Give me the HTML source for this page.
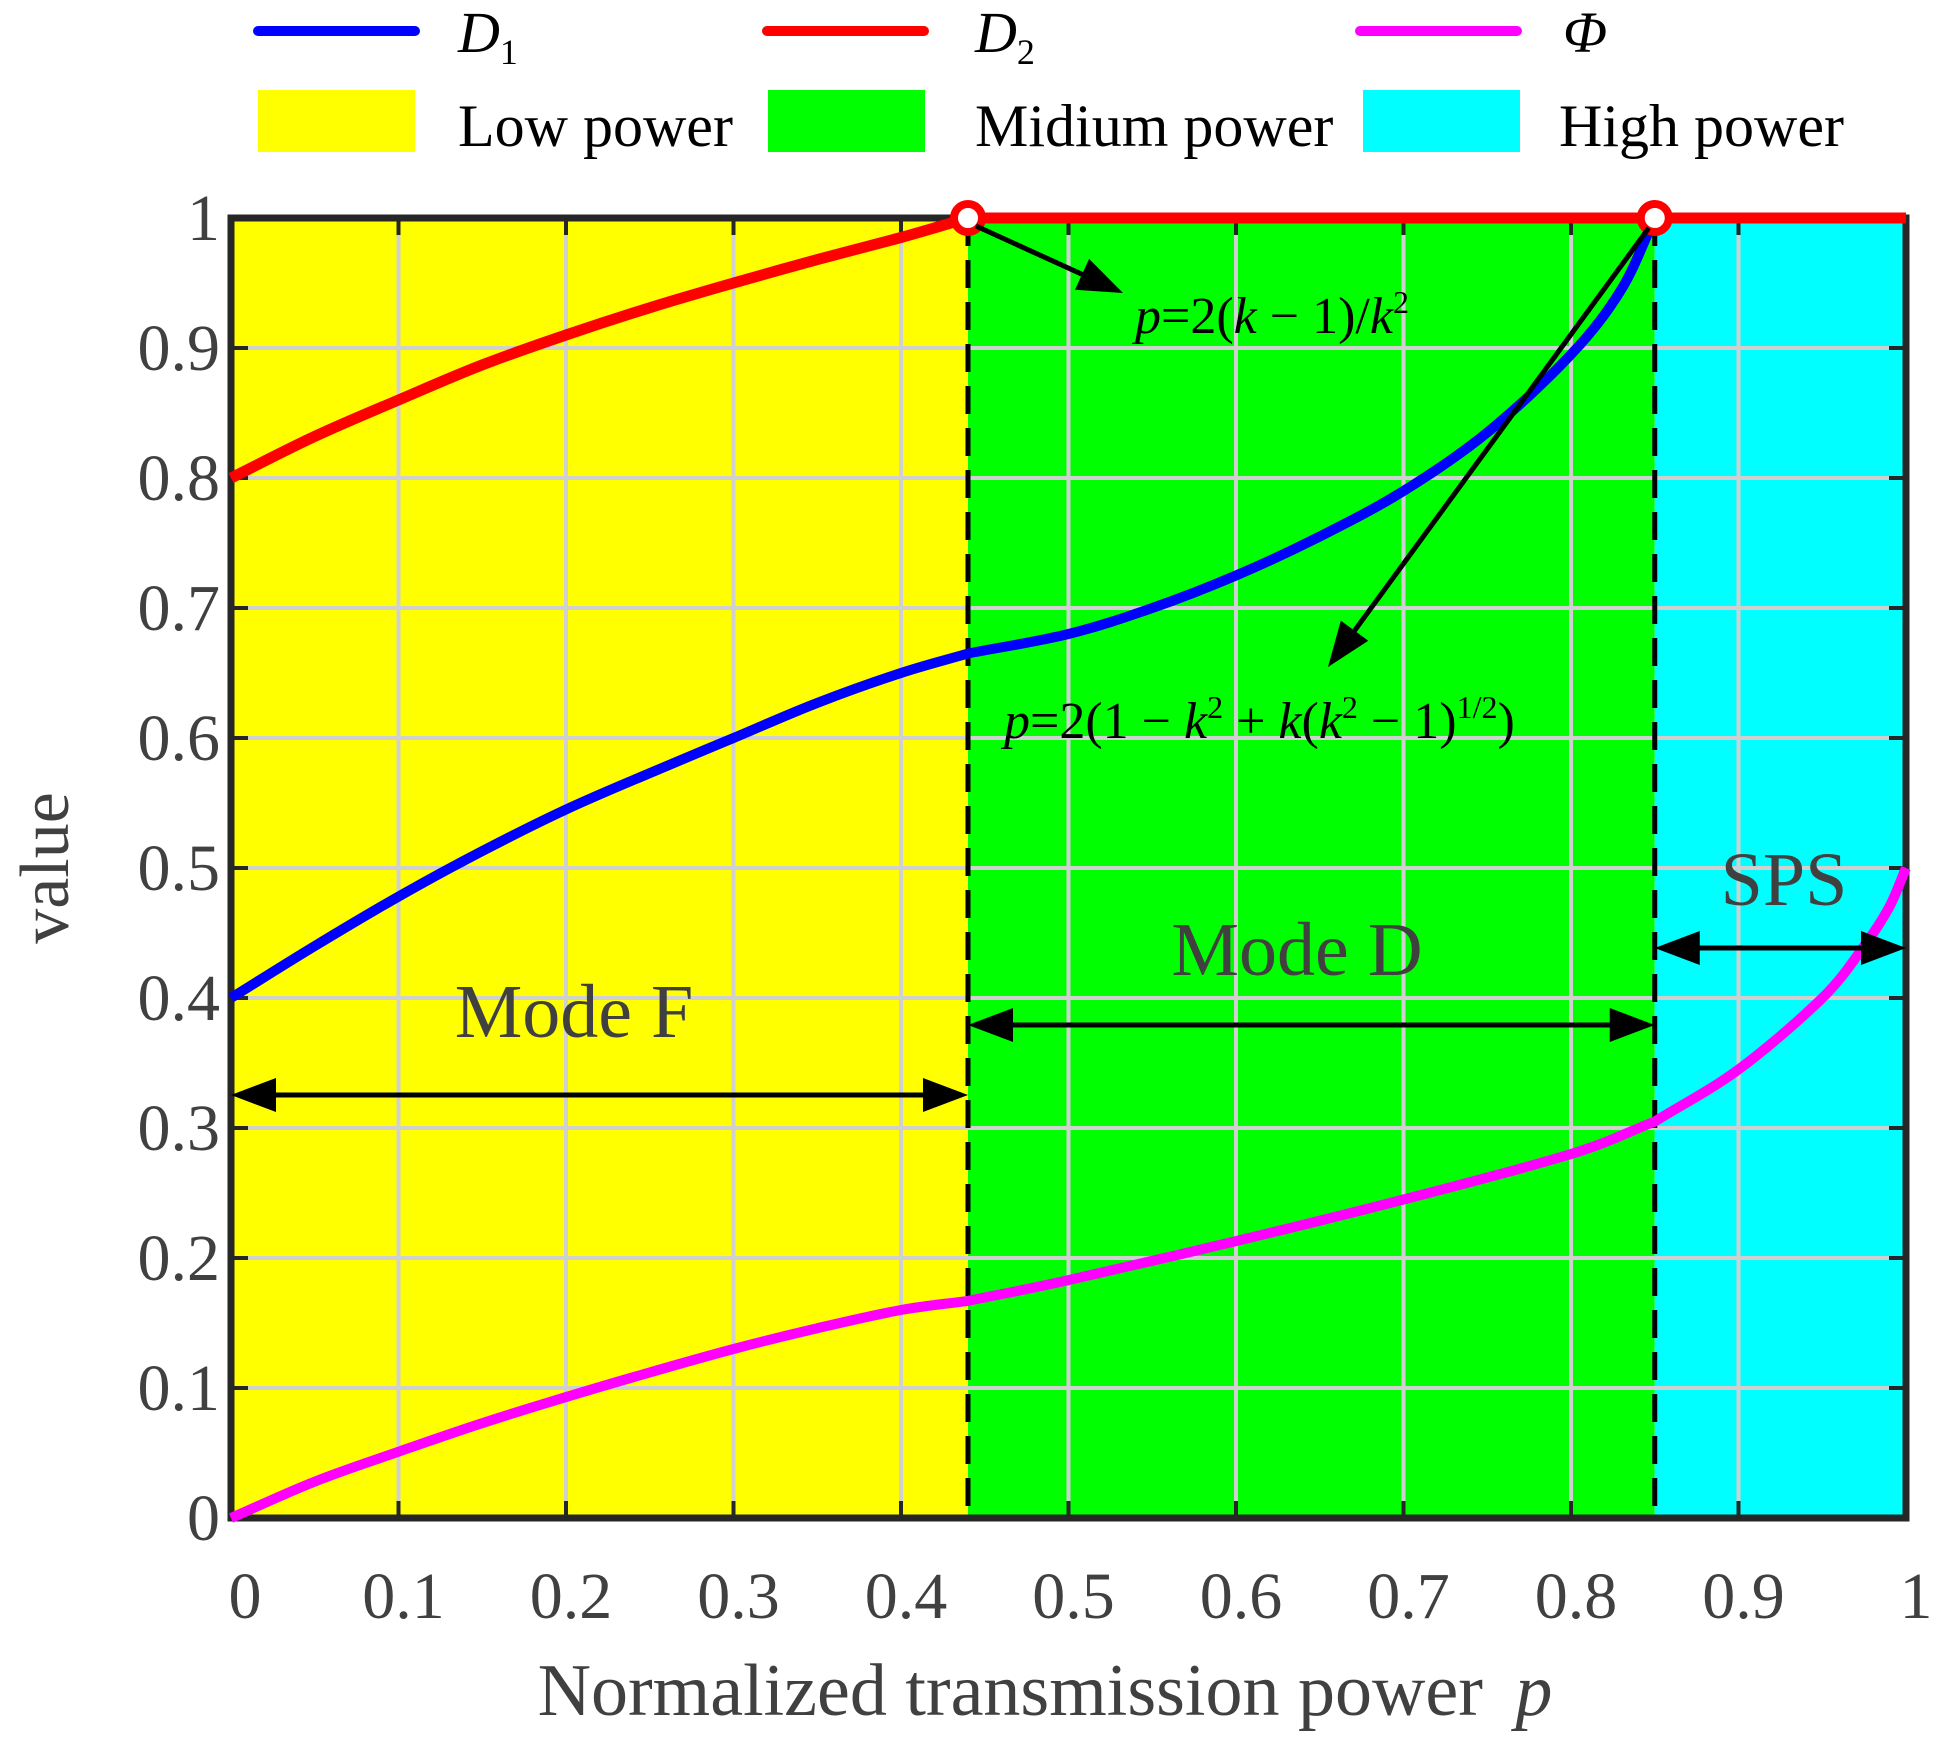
<!DOCTYPE html>
<html><head><meta charset="utf-8"><style>
html,body{margin:0;padding:0;background:#fff;}
svg{display:block;font-family:"Liberation Serif",serif;}
</style></head><body>
<svg id="chart" width="1946" height="1745" viewBox="0 0 1946 1745" xmlns="http://www.w3.org/2000/svg">
<g id="regions"></g>
<g id="grid"></g>
<g id="axes"></g>
<g id="series"></g>
<g id="annot"></g>
<g id="legend"></g>
</svg>
<script>
const xTicks=[0,0.1,0.2,0.3,0.4,0.5,0.6,0.7,0.8,0.9,1];
const yTicks=[0,0.1,0.2,0.3,0.4,0.5,0.6,0.7,0.8,0.9,1];
const tickLabels=["0","0.1","0.2","0.3","0.4","0.5","0.6","0.7","0.8","0.9","1"];
const boundaries=[0.44,0.85];
const d1X=[0,0.05,0.1,0.15,0.2,0.25,0.3,0.35,0.4,0.44,0.5,0.55,0.6,0.65,0.7,0.75,0.8,0.83,0.85];
const d1Y=[0.4,0.44,0.478,0.513,0.545,0.573,0.6,0.627,0.65,0.665,0.68,0.7,0.725,0.755,0.79,0.835,0.895,0.945,1.0];
const d2X=[0,0.05,0.1,0.15,0.2,0.25,0.3,0.35,0.4,0.44,0.6,0.85,1.0];
const d2Y=[0.8,0.832,0.86,0.887,0.91,0.931,0.95,0.968,0.985,1.0,1.0,1.0,1.0];
const phiX=[0,0.05,0.1,0.15,0.2,0.25,0.3,0.35,0.4,0.44,0.5,0.6,0.7,0.8,0.85,0.9,0.95,0.975,0.99,1.0];
const phiY=[0,0.028,0.051,0.073,0.093,0.112,0.13,0.146,0.16,0.167,0.183,0.213,0.245,0.28,0.305,0.345,0.4,0.44,0.47,0.5];

const L=231,R=1906,T=218,B=1518;
const sx=v=>L+(R-L)*v, sy=v=>B-(B-T)*v;
const NS="http://www.w3.org/2000/svg";
function mk(tag,attrs,parent){const e=document.createElementNS(NS,tag);for(const k in attrs)e.setAttribute(k,attrs[k]);parent.appendChild(e);return e;}
const G=id=>document.getElementById(id);

const regColors=["#ffff00","#00ff00","#00ffff"];
const regNames=["low-power-region","medium-power-region","high-power-region"];
const edges=[0,boundaries[0],boundaries[1],1];
for(let i=0;i<3;i++){
  const r=mk('rect',{x:sx(edges[i]),y:T,width:sx(edges[i+1])-sx(edges[i]),height:B-T,fill:regColors[i]},G('regions'));
  
  
}
xTicks.forEach(v=>{const l=mk('line',{x1:sx(v),x2:sx(v),y1:T,y2:B,stroke:'#d0d0d0','stroke-width':4},G('grid'));
  
  });
yTicks.forEach(v=>{const l=mk('line',{x1:L,x2:R,y1:sy(v),y2:sy(v),stroke:'#d0d0d0','stroke-width':4},G('grid'));
  
  });
boundaries.forEach(b=>{const l=mk('line',{x1:sx(b),x2:sx(b),y1:T,y2:B,stroke:'#000','stroke-width':5,'stroke-dasharray':'28,14'},G('grid'));
  
  });

const box=mk('rect',{x:L,y:T,width:R-L,height:B-T,fill:'none',stroke:'#262626','stroke-width':7},G('axes'));


xTicks.forEach((v,i)=>{
  mk('line',{x1:sx(v),x2:sx(v),y1:B,y2:B-17,stroke:'#262626','stroke-width':4},G('axes'));
  mk('line',{x1:sx(v),x2:sx(v),y1:T,y2:T+17,stroke:'#262626','stroke-width':4},G('axes'));
  const t=mk('text',{x:sx(v)+(i==0?14:i==10?10:5),y:1618,'font-size':66,fill:'#404040','text-anchor':'middle'},G('axes'));
  t.textContent=tickLabels[i];
  
  
});
yTicks.forEach((v,i)=>{
  mk('line',{x1:L,x2:L+17,y1:sy(v),y2:sy(v),stroke:'#262626','stroke-width':4},G('axes'));
  mk('line',{x1:R,x2:R-17,y1:sy(v),y2:sy(v),stroke:'#262626','stroke-width':4},G('axes'));
  const t=mk('text',{x:220,y:sy(v)+22,'font-size':66,fill:'#404040','text-anchor':'end'},G('axes'));
  t.textContent=tickLabels[i];
  
  
});
const xt=mk('text',{x:1045,y:1715,'font-size':74,fill:'#404040','text-anchor':'middle'},G('axes'));
xt.innerHTML='Normalized transmission power <tspan font-style="italic" dx="14">p</tspan>';


const yt=mk('text',{x:68,y:868,'font-size':70,fill:'#404040','text-anchor':'middle',transform:'rotate(-90 68 868)'},G('axes'));
yt.textContent='value';



// smooth path with one-sided tangents at region boundaries (kinks)
function path(xs,ys){
  const P=xs.map((x,i)=>[sx(x),sy(ys[i])]);
  const n=P.length;
  const isKink=i=>boundaries.some(b=>Math.abs(xs[i]-b)<1e-9);
  function tanIn(i){ // tangent arriving at i (from left)
    if(i===0||i===n-1||isKink(i)){const a=P[Math.max(i-1,0)],b=P[i];return [b[0]-a[0],b[1]-a[1]];}
    return [(P[i+1][0]-P[i-1][0])/2,(P[i+1][1]-P[i-1][1])/2];
  }
  function tanOut(i){
    if(i===0||i===n-1||isKink(i)){const a=P[i],b=P[Math.min(i+1,n-1)];return [b[0]-a[0],b[1]-a[1]];}
    return [(P[i+1][0]-P[i-1][0])/2,(P[i+1][1]-P[i-1][1])/2];
  }
  let d='M'+P[0][0].toFixed(1)+','+P[0][1].toFixed(1);
  for(let i=0;i<n-1;i++){
    const t1=tanOut(i),t2=tanIn(i+1),p1=P[i],p2=P[i+1];
    const c1=[p1[0]+t1[0]/3,p1[1]+t1[1]/3], c2=[p2[0]-t2[0]/3,p2[1]-t2[1]/3];
    d+=` C${c1[0].toFixed(1)},${c1[1].toFixed(1)} ${c2[0].toFixed(1)},${c2[1].toFixed(1)} ${p2[0].toFixed(1)},${p2[1].toFixed(1)}`;
  }
  return d;
}
const s2=mk('path',{d:path(d2X,d2Y),stroke:'#ff0000','stroke-width':11,fill:'none','stroke-linejoin':'round'},G('series'));


const s1=mk('path',{d:path(d1X,d1Y),stroke:'#0000ff','stroke-width':10,fill:'none','stroke-linejoin':'round'},G('series'));


const s3=mk('path',{d:path(phiX,phiY),stroke:'#ff00ff','stroke-width':10,fill:'none','stroke-linejoin':'round'},G('series'));



boundaries.forEach(b=>{const c=mk('circle',{cx:sx(b),cy:sy(1),r:14,fill:'#fff',stroke:'#ff0000','stroke-width':8},G('annot'));
  
  });
function ah(x,y,ang){mk('path',{d:'M0,0 L-45,-17 L-45,17 Z',fill:'#000',transform:`translate(${x},${y}) rotate(${ang})`},G('annot'));}
function dbl(x1,x2,y,name){
  const l=mk('line',{x1:x1+30,x2:x2-30,y1:y,y2:y,stroke:'#000','stroke-width':5},G('annot'));
  
  
  ah(x2,y,0);ah(x1,y,180);
}
dbl(sx(0),sx(boundaries[0]),1095,'mode-f-range-arrow');
dbl(sx(boundaries[0]),sx(boundaries[1]),1025,'mode-d-range-arrow');
dbl(sx(boundaries[1]),sx(1),948,'sps-range-arrow');
function callout(x1,y1,x2,y2,name){
  const a=Math.atan2(y2-y1,x2-x1);
  const l=mk('line',{x1,y1,x2:x2-40*Math.cos(a),y2:y2-40*Math.sin(a),stroke:'#000','stroke-width':5},G('annot'));
  
  
  ah(x2,y2,a*180/Math.PI);
}
callout(sx(boundaries[0])+8,226,1123,293,'formula-1-arrow');
callout(sx(boundaries[1])-6,228,1328,667,'formula-2-arrow');
function txt(x,y,size,html,name,anchor){const t=mk('text',{x,y,'font-size':size,fill:'#404040','text-anchor':anchor||'middle'},G('annot'));t.innerHTML=html;
  
  return t;}
txt(574,1037,76,'Mode F','mode-f-label');
txt(1297,975,76,'Mode D','mode-d-label');
txt(1784,905,76,'SPS','sps-label');
const f1=txt(1135,333,52,'<tspan font-style="italic">p</tspan>=2(<tspan font-style="italic">k</tspan> − 1)/<tspan font-style="italic">k</tspan><tspan font-size="32" dy="-20">2</tspan>','formula-1','start');f1.setAttribute('fill','#000');
const f2=txt(1004,738,52,'<tspan font-style="italic">p</tspan>=2(1 − <tspan font-style="italic">k</tspan><tspan font-size="32" dy="-20">2</tspan><tspan dy="20"> + </tspan><tspan font-style="italic">k</tspan>(<tspan font-style="italic">k</tspan><tspan font-size="32" dy="-20">2</tspan><tspan dy="20"> − 1)</tspan><tspan font-size="32" dy="-20">1/2</tspan><tspan dy="20">)</tspan>','formula-2','start');f2.setAttribute('fill','#000');

const leg=[['#0000ff',258,458,'D<tspan font-size="36" dy="12" font-style="normal">1</tspan>','legend-entry-d1'],['#ff0000',767,975,'D<tspan font-size="36" dy="12" font-style="normal">2</tspan>','legend-entry-d2'],['#ff00ff',1360,1563,'Φ','legend-entry-phi']];
leg.forEach(([c,x,tx,lab,name])=>{
  const g=mk('g',{},G('legend'));
  
  
  mk('line',{x1:x,x2:x+157,y1:31,y2:31,stroke:c,'stroke-width':10,'stroke-linecap':'round'},g);
  const t=mk('text',{x:tx,y:52,'font-size':58,'font-style':'italic',fill:'#000'},g);t.innerHTML=lab;
});
const leg2=[['#ffff00',258,458,'Low power','legend-entry-low-power'],['#00ff00',768,975,'Midium power','legend-entry-medium-power'],['#00ffff',1363,1559,'High power','legend-entry-high-power']];
leg2.forEach(([c,x,tx,lab,name])=>{
  const g=mk('g',{},G('legend'));
  
  
  mk('rect',{x,y:90,width:157,height:62,fill:c},g);
  const t=mk('text',{x:tx,y:146,'font-size':60,fill:'#000'},g);t.textContent=lab;
});
</script>
</body></html>
